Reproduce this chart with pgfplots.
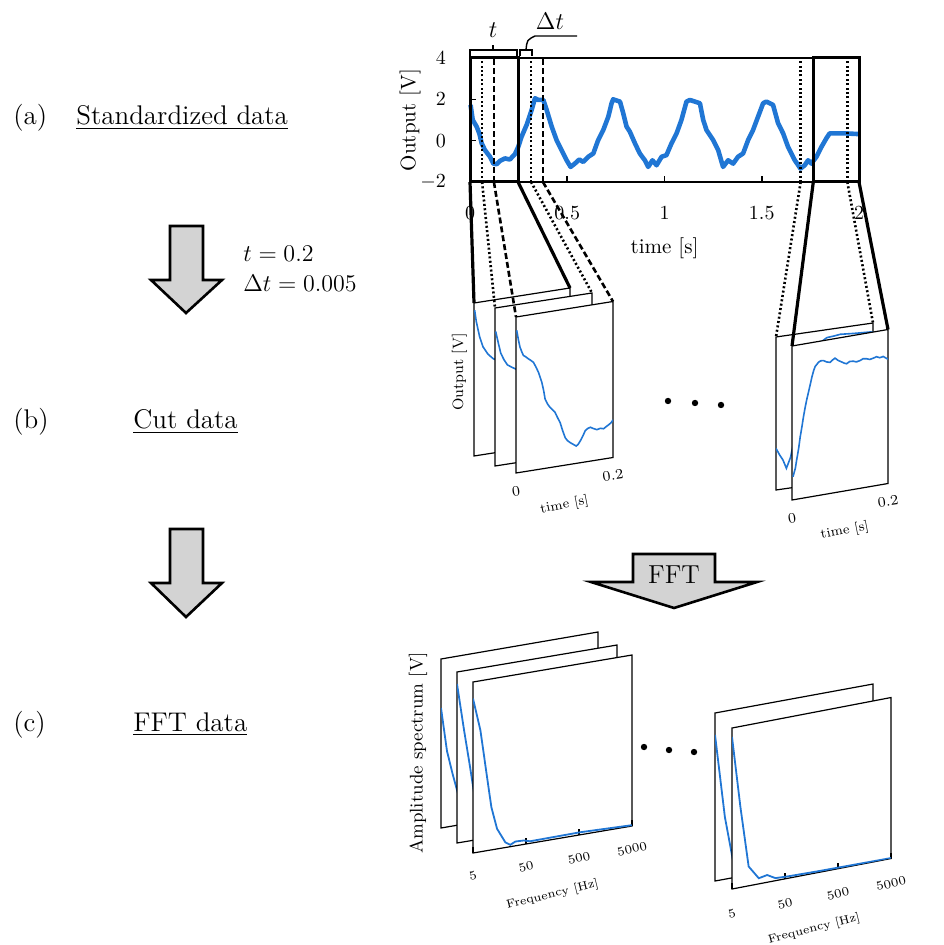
\documentclass[border=0pt]{standalone}
\usepackage{pgfplots}
\pgfplotsset{compat=1.18}
\usepackage{pgfplotstable}
\definecolor{cb}{RGB}{32,118,212}
\definecolor{ag}{RGB}{211,211,211}

\pgfplotstableread{
t V
0.003 1.73
0.014 1.00
0.034 0.68
0.048 0.35
0.060 -0.13
0.077 -0.46
0.103 -0.78
0.120 -1.11
0.137 -1.14
0.154 -0.98
0.180 -0.86
0.205 -0.91
0.231 -0.65
0.248 -0.30
0.265 0.19
0.291 0.76
0.317 1.49
0.334 2.05
0.351 1.97
0.377 1.97
0.394 1.49
0.420 0.68
0.445 0.03
0.471 -0.46
0.497 -0.95
0.517 -1.27
0.539 -1.11
0.562 -0.91
0.582 -1.03
0.608 -0.78
0.634 -0.62
0.659 0.03
0.685 0.51
0.711 1.16
0.728 1.81
0.736 2.00
0.771 1.89
0.788 1.32
0.805 0.68
0.822 0.43
0.848 -0.13
0.873 -0.62
0.899 -0.95
0.916 -1.27
0.938 -0.95
0.959 -1.19
0.985 -0.78
1.010 -0.70
1.036 -0.13
1.062 0.35
1.087 1.00
1.113 1.89
1.130 1.97
1.182 1.81
1.199 1.00
1.216 0.51
1.250 0.03
1.276 -0.46
1.301 -1.27
1.327 -0.95
1.353 -1.11
1.378 -0.78
1.404 -0.62
1.430 0.03
1.455 0.51
1.481 1.16
1.507 1.81
1.524 1.89
1.558 1.73
1.584 0.84
1.610 0.35
1.635 -0.30
1.670 -0.95
1.699 -1.35
1.721 -1.19
1.738 -0.95
1.755 -1.11
1.781 -0.78
1.807 -0.30
1.832 0.11
1.849 0.35
1.884 0.35
1.935 0.35
1.995 0.32
}\mainsig

\pgfplotstableread{
x y
0.0014 0.952
0.0048 0.876
0.0118 0.772
0.0188 0.704
0.0292 0.651
0.0398 0.617
0.0600 0.580
0.0800 0.450
0.1000 0.330
0.1200 0.200
0.1400 0.120
0.1600 0.170
0.2000 0.200
}\cutLB

\pgfplotstableread{
x y
0.0014 0.851
0.0068 0.775
0.0118 0.709
0.0186 0.663
0.0256 0.628
0.0344 0.609
0.0500 0.580
0.0700 0.450
0.0900 0.330
0.1100 0.200
0.1300 0.120
0.1500 0.180
0.1700 0.200
0.2000 0.220
}\cutLM

\pgfplotstableread{
x y
0.0014 0.914
0.0050 0.850
0.0082 0.803
0.0120 0.770
0.0152 0.746
0.0200 0.735
0.0256 0.719
0.0300 0.708
0.0358 0.692
0.0410 0.660
0.0462 0.623
0.0532 0.555
0.0570 0.500
0.0600 0.444
0.0650 0.410
0.0704 0.385
0.0760 0.365
0.0806 0.348
0.0860 0.310
0.0910 0.278
0.0960 0.225
0.1014 0.176
0.1060 0.155
0.1118 0.139
0.1180 0.125
0.1242 0.111
0.1280 0.120
0.1324 0.139
0.1380 0.170
0.1428 0.201
0.1480 0.212
0.1532 0.217
0.1600 0.205
0.1668 0.195
0.1740 0.200
0.1806 0.194
0.1860 0.205
0.1910 0.214
0.1960 0.225
0.2000 0.241
}\cutLF

\pgfplotstableread{
x y
0.0000 0.272
0.0076 0.225
0.0144 0.189
0.0214 0.132
0.0300 0.200
0.0500 0.500
0.0700 0.800
0.0900 0.920
0.1050 0.948
0.1200 0.952
0.1326 0.957
0.1600 0.950
0.1940 0.944
0.2000 0.940
}\cutRB

\pgfplotstableread{
x y
0.0020 0.150
0.0068 0.201
0.0100 0.260
0.0138 0.327
0.0170 0.400
0.0206 0.464
0.0240 0.530
0.0276 0.590
0.0310 0.640
0.0344 0.683
0.0380 0.730
0.0414 0.776
0.0450 0.815
0.0482 0.841
0.0552 0.865
0.0600 0.872
0.0656 0.870
0.0720 0.858
0.0794 0.851
0.0850 0.865
0.0896 0.873
0.0960 0.855
0.1034 0.841
0.1090 0.830
0.1138 0.824
0.1200 0.835
0.1276 0.833
0.1340 0.825
0.1414 0.829
0.1480 0.838
0.1552 0.834
0.1620 0.826
0.1690 0.830
0.1760 0.836
0.1828 0.826
0.1900 0.830
0.2000 0.807
}\cutRF

\pgfplotstableread{
f a
5 0.71
6.5 0.45
8.3 0.31
12 0.12
20 0.02
50 0.01
5000 0.00
}\fftLB

\pgfplotstableread{
f a
5 0.93
6.8 0.65
8.7 0.44
12 0.15
20 0.03
5000 0.005
}\fftLM

\pgfplotstableread{
f a
5 0.903
6.9 0.71
9.2 0.43
11.1 0.25
14.2 0.118
20.4 0.030
25.3 0.011
31.5 0.025
45 0.023
60 0.012
530 0.015
5000 0.005
}\fftLF

\pgfplotstableread{
f a
5 0.87
7.7 0.37
11 0.10
20 0.03
5000 0.00
}\fftRB

\pgfplotstableread{
f a
5 0.944
7.2 0.50
10.3 0.12
16 0.035
23 0.045
33 0.016
55 0.012
200 0.008
5000 0.003
}\fftRF

\pgfplotsset{
  panel/.style={anchor=origin, axis line style={line width=0.6pt},
    axis background/.style={fill=white},
    xtick=\empty, ytick=\empty, ymin=0, ymax=1},
  cutp/.style={panel, xmin=0, xmax=0.2},
  fftp/.style={panel, xmin=0, xmax=3},
}

\begin{document}
\begin{tikzpicture}[x=0.5pt,y=-0.5pt]
\useasboundingbox (0,0) rectangle (943,945);

% ---------- left column text ----------
\begin{scope}[font=\fontsize{13.5}{16}\selectfont]
\node[anchor=base west, inner sep=0pt] at (13,125) {(a)};
\node[anchor=base west, inner sep=0pt] at (76,125) {\underline{Standardized data}};
\node[anchor=base west, inner sep=0pt] at (13,429) {(b)};
\node[anchor=base west, inner sep=0pt] at (133,429) {\underline{Cut data}};
\node[anchor=base west, inner sep=0pt] at (13,731) {(c)};
\node[anchor=base west, inner sep=0pt] at (133,731) {\underline{FFT data}};
\end{scope}
\node[anchor=base west, inner sep=0pt, font=\fontsize{13}{15}\selectfont] at (243,262) {$t = 0.2$};
\node[anchor=base west, inner sep=0pt, font=\fontsize{13}{15}\selectfont] at (243,292) {$\Delta t = 0.005$};

\draw[line width=1.3pt, fill=ag, line join=miter]
  (170,226) -- (203,226) -- (203,280) -- (222,280) -- (186,313) -- (151,280) -- (170,280) -- cycle;
\draw[line width=1.3pt, fill=ag, line join=miter]
  (170,529) -- (203,529) -- (203,583) -- (222,583) -- (186,617) -- (151,583) -- (170,583) -- cycle;
\draw[line width=1.3pt, fill=ag, line join=miter]
  (633,554) -- (715,554) -- (715,582) -- (757,582) -- (674,608) -- (591,582) -- (633,582) -- cycle;
\node[font=\fontsize{13}{15}\selectfont] at (674,575) {FFT};

% ---------- top plot ----------
\begin{axis}[name=top, at={(235pt,-91pt)}, anchor=south west,
  scale only axis, width=194.5pt, height=62pt,
  xmin=0, xmax=2, ymin=-2, ymax=4,
  axis line style={line width=1.2pt},
  xtick={0,0.5,1,1.5,2}, ytick={-2,0,2,4},
  xticklabels={0,0.5,1,1.5,2},
  xtick pos=bottom, ytick pos=left,
  tick align=inside, major tick length=3pt,
  tick style={line width=0.8pt, black},
  xticklabel style={font=\fontsize{10}{12}\selectfont, anchor=center, yshift=-15.5pt},
  yticklabel style={font=\fontsize{10}{12}\selectfont, anchor=east, xshift=-8.5pt},
  xlabel={time [s]}, ylabel={Output [V]},
  xlabel style={font=\fontsize{10.5}{12}\selectfont, at={(axis description cs:0.5,-0.532)}, anchor=center},
  ylabel style={font=\fontsize{10.5}{12}\selectfont, at={(axis description cs:-0.154,0.5)}, anchor=center},
  clip=false]
\addplot[cb, line width=2.3pt, line join=round] table[x=t, y=V] {\mainsig};
\draw[line width=1.5pt] (axis cs:0,-2) rectangle (axis cs:0.247,4);
\draw[line width=1.5pt] (axis cs:1.765,-2) rectangle (axis cs:2,4);
\draw[line width=1.2pt, dash pattern=on 1pt off 1.2pt] (axis cs:0.062,-2) -- (axis cs:0.062,4);
\draw[line width=1.2pt, dash pattern=on 1pt off 1.2pt] (axis cs:0.314,-2) -- (axis cs:0.314,4);
\draw[line width=1.2pt, dash pattern=on 1pt off 1.2pt] (axis cs:1.70,-2) -- (axis cs:1.70,4);
\draw[line width=1.2pt, dash pattern=on 1pt off 1.2pt] (axis cs:1.94,-2) -- (axis cs:1.94,4);
\draw[line width=1.2pt, dash pattern=on 3pt off 1.5pt] (axis cs:0.123,-2) -- (axis cs:0.123,4);
\draw[line width=1.2pt, dash pattern=on 3pt off 1.5pt] (axis cs:0.375,-2) -- (axis cs:0.375,4);
\coordinate (s0) at (axis cs:0,-2);
\coordinate (s1) at (axis cs:0.247,-2);
\coordinate (d0) at (axis cs:0.062,-2);
\coordinate (d1) at (axis cs:0.314,-2);
\coordinate (e0) at (axis cs:0.123,-2);
\coordinate (e1) at (axis cs:0.375,-2);
\coordinate (r0) at (axis cs:1.765,-2);
\coordinate (r1) at (axis cs:2,-2);
\coordinate (q0) at (axis cs:1.70,-2);
\coordinate (q1) at (axis cs:1.94,-2);
\end{axis}

% braces above top plot
\draw[line width=0.7pt] (470,56) -- (470,50) -- (517,50) -- (517,56);
\draw[line width=0.7pt] (493,50) -- (493,45);
\node[font=\fontsize{12}{14}\selectfont] at (493,30) {$t$};
\draw[line width=0.7pt] (520,56) -- (520,50) -- (532,50) -- (532,56);
\draw[line width=0.7pt] (526,50) .. controls (527,40) .. (535,36) -- (577,36);
\node[font=\fontsize{12}{14}\selectfont] at (550,21) {$\Delta t$};

% ---------- cut panels, left group ----------
\begin{axis}[cutp, at={(237pt,-228pt)}, x={(240pt,37.5pt)}, y={(0pt,76.5pt)},
  ylabel={Output [V]},
  ylabel style={at={(axis description cs:0,0.5)}, anchor=south, font=\fontsize{7.5}{9}\selectfont}]
\addplot[cb, line width=0.8pt] table[x=x,y=y] {\cutLB};
\coordinate (LBl) at (axis cs:0,1);
\coordinate (LBr) at (axis cs:0.2,1);
\end{axis}
\begin{axis}[cutp, at={(247.5pt,-233pt)}, x={(242.5pt,37.5pt)}, y={(0pt,79pt)}]
\addplot[cb, line width=0.8pt] table[x=x,y=y] {\cutLM};
\coordinate (LMl) at (axis cs:0,1);
\coordinate (LMr) at (axis cs:0.2,1);
\end{axis}
\begin{axis}[cutp, at={(258pt,-236.5pt)}, x={(242.5pt,38.75pt)}, y={(0pt,78pt)},
  xtick={0,0.2}, xticklabels={0,0.2}, major tick length=0pt,
  xticklabel style={font=\fontsize{7.2}{9}\selectfont, anchor=center, yshift=-9pt, rotate=8},
  xlabel={time [s]},
  xlabel style={font=\fontsize{6.6}{8}\selectfont, at={(axis cs:0.1,-0.256)}, anchor=center, rotate=11}]
\addplot[cb, line width=0.8pt] table[x=x,y=y] {\cutLF};
\coordinate (LFl) at (axis cs:0,1);
\coordinate (LFr) at (axis cs:0.2,1);
\end{axis}

% ---------- cut panels, right group ----------
\begin{axis}[cutp, at={(388pt,-245pt)}, x={(242.5pt,35pt)}, y={(0pt,76.5pt)}]
\addplot[cb, line width=0.8pt] table[x=x,y=y] {\cutRB};
\coordinate (RBl) at (axis cs:0,1);
\coordinate (RBr) at (axis cs:0.2,1);
\end{axis}
\begin{axis}[cutp, at={(396pt,-250pt)}, x={(240pt,41.25pt)}, y={(0pt,77pt)},
  xtick={0,0.2}, xticklabels={0,0.2}, major tick length=0pt,
  xticklabel style={font=\fontsize{7.2}{9}\selectfont, anchor=center, yshift=-9pt, rotate=8},
  xlabel={time [s]},
  xlabel style={font=\fontsize{6.6}{8}\selectfont, at={(axis cs:0.11,-0.26)}, anchor=center, rotate=11}]
\addplot[cb, line width=0.8pt] table[x=x,y=y] {\cutRF};
\coordinate (RFl) at (axis cs:0,1);
\coordinate (RFr) at (axis cs:0.2,1);
\end{axis}

% ---------- FFT panels, left group ----------
\begin{axis}[fftp, at={(220.5pt,-414pt)}, x={(26.17pt,4.5pt)}, y={(0pt,84.5pt)},
  ylabel={Amplitude spectrum [V]},
  ylabel style={at={(axis cs:-0.44,0.467)}, anchor=center, font=\fontsize{9.2}{11}\selectfont}]
\addplot[cb, line width=0.9pt] table[x expr={log10(\thisrow{f}/5)}, y=a] {\fftLB};
\end{axis}
\begin{axis}[fftp, at={(228.5pt,-421.5pt)}, x={(26.67pt,4.5pt)}, y={(0pt,85.5pt)}]
\addplot[cb, line width=0.9pt] table[x expr={log10(\thisrow{f}/5)}, y=a] {\fftLM};
\end{axis}
\begin{axis}[fftp, at={(236.5pt,-426.5pt)}, x={(26.5pt,4.5pt)}, y={(0pt,85.5pt)},
  xtick={0,1,2,3}, xticklabels={5,50,500,5000}, xtick pos=bottom,
  tick align=inside, major tick length=3pt, tick style={black, line width=0.6pt},
  xticklabel style={font=\fontsize{6.2}{8}\selectfont, anchor=center, yshift=-11.5pt, rotate=13},
  xlabel={Frequency [Hz]},
  xlabel style={font=\fontsize{5.9}{7}\selectfont, at={(axis cs:1.5,-0.322)}, anchor=center, rotate=14}]
\addplot[cb, line width=0.9pt] table[x expr={log10(\thisrow{f}/5)}, y=a] {\fftLF};
\end{axis}

% ---------- FFT panels, right group ----------
\begin{axis}[fftp, at={(357.5pt,-440.5pt)}, x={(26.33pt,4.83pt)}, y={(0pt,84pt)}]
\addplot[cb, line width=0.9pt] table[x expr={log10(\thisrow{f}/5)}, y=a] {\fftRB};
\end{axis}
\begin{axis}[fftp, at={(366pt,-444.5pt)}, x={(26.5pt,5.08pt)}, y={(0pt,80.5pt)},
  xtick={0,1,2,3}, xticklabels={5,50,500,5000}, xtick pos=bottom,
  tick align=inside, major tick length=3pt, tick style={black, line width=0.6pt},
  xticklabel style={font=\fontsize{6.2}{8}\selectfont, anchor=center, yshift=-12.5pt, rotate=13},
  xlabel={Frequency [Hz]},
  xlabel style={font=\fontsize{5.9}{7}\selectfont, at={(axis cs:1.55,-0.345)}, anchor=center, rotate=14}]
\addplot[cb, line width=0.9pt] table[x expr={log10(\thisrow{f}/5)}, y=a] {\fftRF};
\end{axis}

% ---------- connectors ----------
\draw[line width=1.6pt] (s0) -- (LBl);
\draw[line width=1.6pt] (s1) -- (LBr);
\draw[line width=1.3pt, dash pattern=on 1pt off 1.2pt] (d0) -- (LMl);
\draw[line width=1.3pt, dash pattern=on 1pt off 1.2pt] (d1) -- (LMr);
\draw[line width=1.3pt, dash pattern=on 3pt off 1.5pt] (e0) -- (LFl);
\draw[line width=1.3pt, dash pattern=on 3pt off 1.5pt] (e1) -- (LFr);
\draw[line width=1.6pt] (r0) -- (RFl);
\draw[line width=1.6pt] (r1) -- (RFr);
\draw[line width=1.3pt, dash pattern=on 1pt off 1.2pt] (q0) -- (RBl);
\draw[line width=1.3pt, dash pattern=on 1pt off 1.2pt] (q1) -- (RBr);

% ellipsis dots
\fill (668,401) circle[radius=1.6pt];
\fill (695,403) circle[radius=1.6pt];
\fill (721,405) circle[radius=1.6pt];
\fill (644,747) circle[radius=1.6pt];
\fill (669,750) circle[radius=1.6pt];
\fill (694,752) circle[radius=1.6pt];
\end{tikzpicture}
\end{document}
